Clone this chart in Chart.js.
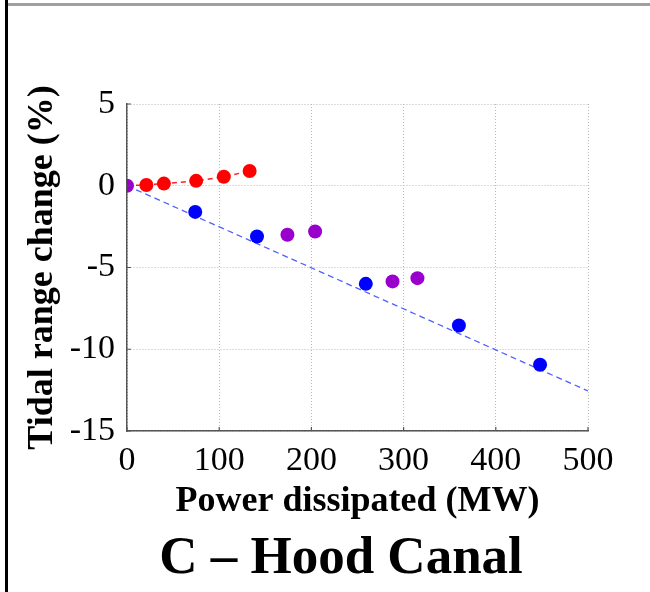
<!DOCTYPE html>
<html>
<head>
<meta charset="utf-8">
<script src="https://cdn.jsdelivr.net/npm/chart.js@4"></script>
<style>
  html, body { margin: 0; padding: 0; background: #fff; width: 650px; height: 592px; overflow: hidden; }
  #frameLeft { position: absolute; left: 5px; top: 0; width: 3px; height: 592px; background: #000; }
  #frameTop { position: absolute; left: 8px; top: 3px; width: 642px; height: 3px; background: #a0a0a0; }
  #wrap { position: absolute; left: 10px; top: 10px; width: 640px; height: 520px; }
  #caption { position: absolute; left: 91px; top: 529px; width: 500px; text-align: center;
             font: bold 53px "Liberation Serif", "Times New Roman", serif; line-height: 1; color: #000; }
</style>
</head>
<body>
<div id="frameLeft"></div>
<div id="frameTop"></div>
<div id="wrap"><canvas id="tidalChart" width="640" height="520"></canvas></div>
<div id="caption">C – Hood Canal</div>
<script>
// values
const purplePowerMW = [0, 174, 204, 288, 315];
const purpleChange = [0, -3.0, -2.8, -5.85, -5.65];

const redPowerMW = [0, 21, 40, 75, 105, 133];
const redChange = [0, 0.05, 0.13, 0.3, 0.55, 0.9];

const bluePowerMW = [74, 141, 259, 360, 448];
const blueChange = [-1.6, -3.1, -6.0, -8.55, -10.95];

const fitPowerMW = [0, 500];
const fitChange = [0, -12.55];

const xTicks = [0, 100, 200, 300, 400, 500];
const yTicks = [-15, -10, -5, 0, 5];

const serif = '"Liberation Serif", "Times New Roman", serif';

function pts(xs, ys) {
    return xs.map((x, i) => ({ x: x, y: ys[i] }));
}

// small tick marks drawn inward, like the original axes
const innerTicks = {
    id: "innerTicks",
    afterDatasetsDraw(chart) {
        const c = chart.ctx, xs = chart.scales.x, ys = chart.scales.y;
        const a = chart.chartArea;
        c.save();
        c.strokeStyle = "#555";
        c.lineWidth = 1.2;
        c.beginPath();
        xTicks.forEach(v => {
            const px = xs.getPixelForValue(v);
            c.moveTo(px, a.bottom);
            c.lineTo(px, a.bottom - 4);
        });
        yTicks.forEach(v => {
            const py = ys.getPixelForValue(v);
            c.moveTo(a.left, py);
            c.lineTo(a.left + 4, py);
        });
        c.stroke();
        c.restore();
    }
};

const ctx = document.getElementById("tidalChart").getContext("2d");
new Chart(ctx, {
    type: "scatter",
    data: {
        datasets: [
            {
                label: "Purple", data: pts(purplePowerMW, purpleChange),
                backgroundColor: "#9900cc", borderColor: "#9900cc",
                pointRadius: 7, pointHoverRadius: 7, borderWidth: 0
            },
            {
                label: "Red", data: pts(redPowerMW, redChange),
                showLine: true, borderColor: "#ff2020", borderWidth: 1.5, borderDash: [5, 4],
                backgroundColor: "#ff0000",
                pointBorderWidth: 0,
                pointRadius: c => c.dataIndex === 0 ? 0 : 7, pointHoverRadius: 7
            },
            {
                label: "Blue", data: pts(bluePowerMW, blueChange),
                backgroundColor: "#0000ff", borderColor: "#0000ff",
                pointRadius: 7, pointHoverRadius: 7, borderWidth: 0
            },
            {
                label: "Fit", data: pts(fitPowerMW, fitChange),
                showLine: true, borderColor: "#5060ff", borderWidth: 1.3, borderDash: [6, 4],
                pointRadius: 0, pointHoverRadius: 0
            }
        ]
    },
    options: {
        responsive: false,
        animation: false,
        events: [],
        layout: { padding: { left: 11, right: 62, top: 94, bottom: 7 } },
        plugins: { legend: { display: false }, tooltip: { enabled: false } },
        scales: {
            x: {
                type: "linear", min: 0, max: 500,
                afterBuildTicks: s => { s.ticks = xTicks.map(v => ({ value: v })); },
                afterFit: s => { s.height = 92; },
                grid: { color: "#b8b8b8", lineWidth: 1, drawTicks: false },
                border: { display: true, color: "#555", width: 1.5, dash: [1, 2] },
                ticks: { color: "#000", padding: 10, maxRotation: 0, font: { family: serif, size: 34 } },
                title: { display: true, text: "Power dissipated (MW)", color: "#000", padding: 0,
                         font: { family: serif, size: 36, weight: "bold" } }
            },
            y: {
                type: "linear", min: -15, max: 5,
                afterBuildTicks: s => { s.ticks = yTicks.map(v => ({ value: v })); },
                afterFit: s => { s.width = 106; },
                grid: { color: "#b8b8b8", lineWidth: 1, drawTicks: false },
                border: { display: true, color: "#555", width: 1.5, dash: [1, 2] },
                ticks: { color: "#000", padding: 12, font: { family: serif, size: 34 } },
                title: { display: true, text: "Tidal range change (%)", color: "#000", padding: 0,
                         font: { family: serif, size: 36, weight: "bold" } }
            }
        }
    },
    plugins: [innerTicks]
});
</script>
</body>
</html>
